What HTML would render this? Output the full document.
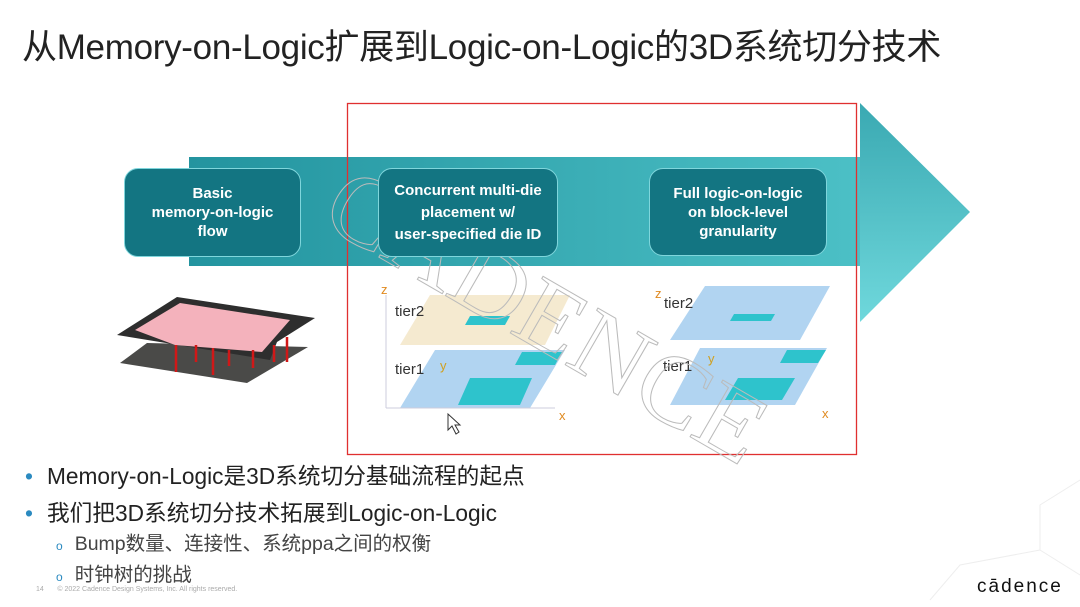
<!DOCTYPE html>
<html><head><meta charset="utf-8"><style>
body{margin:0;width:1080px;height:607px;background:#fff;overflow:hidden;position:relative;font-family:"Liberation Sans","Noto Sans CJK SC",sans-serif}
.t{position:absolute;white-space:nowrap}
.box{position:absolute;background:#137582;border:1.5px solid #7fd6dc;border-radius:14px;color:#fff;font-weight:bold;font-size:15px;line-height:19px;text-align:center;display:flex;align-items:center;justify-content:center}
</style></head><body>
<div class="t" style="left:22px;top:19px;font-size:35px;letter-spacing:-0.3px;color:#222">从Memory-on-Logic扩展到Logic-on-Logic的3D系统切分技术</div>
<svg width="1080" height="607" style="position:absolute;left:0;top:0">
<defs>
<linearGradient id="g" x1="0" x2="1" y1="0" y2="0"><stop offset="0" stop-color="#23949f"/><stop offset="1" stop-color="#4cc0c6"/></linearGradient>
<linearGradient id="h" x1="0" x2="0" y1="0" y2="1"><stop offset="0" stop-color="#3aa9b2"/><stop offset="1" stop-color="#6fd8dc"/></linearGradient>
</defs>
<rect x="189" y="157" width="672" height="109" fill="url(#g)"/>
<polygon points="860,103 970,212 860,322" fill="url(#h)"/>
<rect x="347.5" y="103.5" width="509" height="351" fill="none" stroke="#e03030" stroke-width="1.3"/>
<polygon points="120,363 147,343 308,347 247,383" fill="#4a4a48"/>
<polygon points="117,335 177,297 315,318 277,342 270,360" fill="#2e2e2e"/>
<polygon points="135,330 180,303 290,320 262,352 175,345" fill="#f4b2bc"/>
<g stroke="#d01818" stroke-width="2.5">
<line x1="176" y1="345" x2="176" y2="372"/><line x1="196" y1="345" x2="196" y2="362"/><line x1="213" y1="348" x2="213" y2="375"/><line x1="229" y1="350" x2="229" y2="366"/><line x1="253" y1="350" x2="253" y2="368"/><line x1="274" y1="345" x2="274" y2="362"/><line x1="287" y1="337" x2="287" y2="362"/></g>
<g font-family="Liberation Sans" font-size="15" fill="#333">
<polygon points="400,345 430,295 570,295 545,345" fill="#f3e5c4" opacity=".8"/>
<polygon points="465,325 470,316 510,316 505,325" fill="#2ec3cc"/>
<polygon points="400,408 435,350 565,350 530,408" fill="#a9cff0" opacity=".9"/>
<polygon points="515,365 522,352 562,352 555,365" fill="#2ec3cc"/>
<polygon points="458,405 470,378 532,378 520,405" fill="#2ec3cc"/>
<line x1="386" y1="295" x2="386" y2="408" stroke="#ccd" /><line x1="386" y1="408" x2="555" y2="408" stroke="#ccd"/>
<text x="395" y="316">tier2</text><text x="395" y="374">tier1</text>
<text x="381" y="294" fill="#e08a20" font-size="13">z</text><text x="440" y="370" fill="#d0a020" font-size="13">y</text><text x="559" y="420" fill="#e08a20" font-size="13">x</text>
<polygon points="670,340 705,286 830,286 800,340" fill="#a9cff0" opacity=".9"/>
<polygon points="730,321 734,314 775,314 771,321" fill="#2ec3cc"/>
<polygon points="670,405 700,348 827,348 795,405" fill="#a9cff0" opacity=".9"/>
<polygon points="780,363 787,350 826,350 818,363" fill="#2ec3cc"/>
<polygon points="725,400 738,378 795,378 782,400" fill="#2ec3cc"/>
<text x="664" y="308">tier2</text><text x="663" y="371">tier1</text>
<text x="655" y="298" fill="#e08a20" font-size="13">z</text><text x="708" y="363" fill="#d0a020" font-size="13">y</text><text x="822" y="418" fill="#e08a20" font-size="13">x</text>
</g>
<text x="318" y="222" font-family="Liberation Serif" font-size="100" fill="none" stroke="#bbb" stroke-width="1" transform="rotate(30 318 222)" textLength="490" lengthAdjust="spacingAndGlyphs">CADENCE</text>
<polygon points="448,414 448,430 452,426 456,434 459,432 455,425 460,425" fill="#fff" stroke="#333"/>
<g stroke="#eee" fill="none"><polyline points="1080,480 1040,505 1040,550 1080,575"/><polyline points="930,600 960,565 1040,550"/></g>
</svg>
<div class="box" style="left:124px;top:168px;width:175px;height:87px">Basic<br>memory-on-logic<br>flow</div>
<div class="box" style="left:378px;top:168px;width:178px;height:87px;line-height:22px">Concurrent multi-die<br>placement w/<br>user-specified die ID</div>
<div class="box" style="left:649px;top:168px;width:176px;height:86px">Full logic-on-logic<br>on block-level<br>granularity</div>
<div class="t" style="left:25px;top:458px;font-size:22.7px;color:#222"><span style="color:#2b8ac0;margin-right:14px">•</span>Memory-on-Logic是3D系统切分基础流程的起点</div>
<div class="t" style="left:25px;top:495px;font-size:22.7px;color:#222"><span style="color:#2b8ac0;margin-right:14px">•</span>我们把3D系统切分技术拓展到Logic-on-Logic</div>
<div class="t" style="left:56px;top:527px;font-size:19.5px;color:#444"><span style="color:#2b8ac0;font-size:12px;margin-right:12px">o</span>Bump数量、连接性、系统ppa之间的权衡</div>
<div class="t" style="left:56px;top:558px;font-size:19.5px;color:#444"><span style="color:#2b8ac0;font-size:12px;margin-right:12px">o</span>时钟树的挑战</div>
<div class="t" style="left:36px;top:586px;font-size:7px;color:#aaa">14&nbsp;&nbsp;&nbsp;&nbsp;&nbsp;&nbsp;&nbsp;© 2022 Cadence Design Systems, Inc. All rights reserved.</div>
<div class="t" style="left:977px;top:576px;font-size:19px;color:#111;letter-spacing:2px">cādence</div>
</body></html>
